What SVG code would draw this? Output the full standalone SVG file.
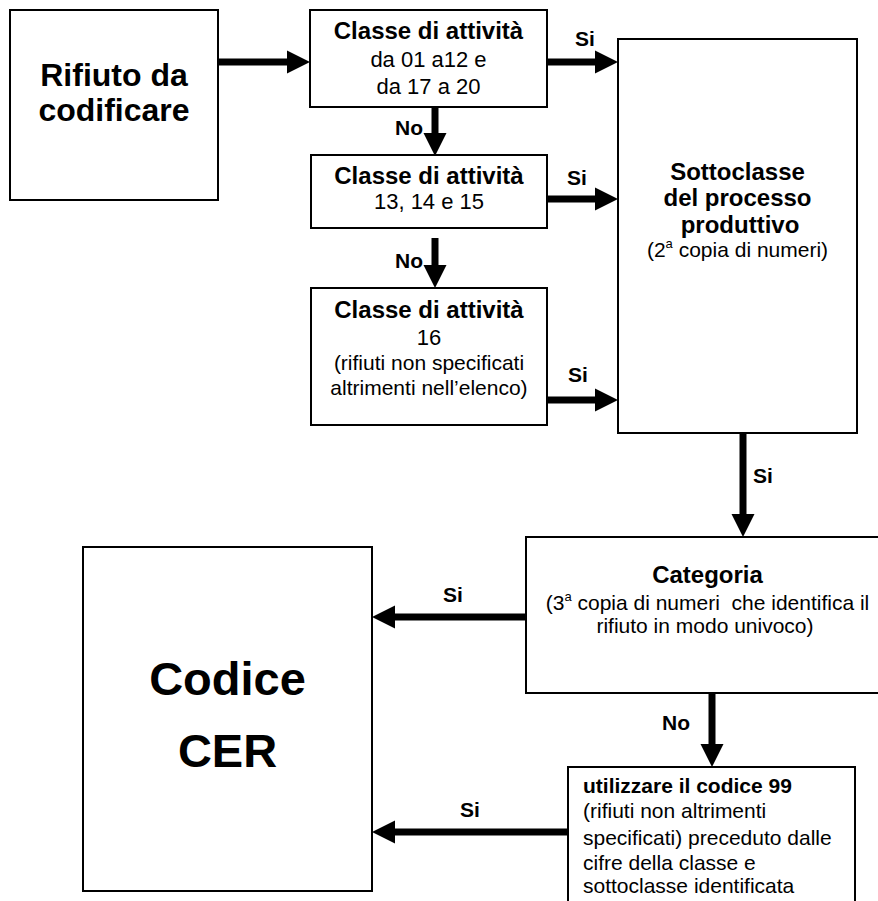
<svg xmlns="http://www.w3.org/2000/svg" width="878" height="901" viewBox="0 0 878 901">
<style>
.box{fill:#fff;stroke:#000;stroke-width:2}
text{font-family:"Liberation Sans",Arial,sans-serif;fill:#000}
.b{font-weight:bold}
.t{font-size:24px;font-weight:bold;text-anchor:middle}
.r{font-size:21px;text-anchor:middle}
.r2{font-size:22px;text-anchor:middle}
.lbl{font-size:21px;font-weight:bold}
.big{font-size:32px;font-weight:bold;text-anchor:middle}
.huge{font-size:47px;font-weight:bold;text-anchor:middle}
.ln{font-size:21px}
.sh{stroke:#000;stroke-width:7;fill:none}
</style>
<defs>
<marker id="ah" markerUnits="userSpaceOnUse" markerWidth="24" markerHeight="24" refX="0" refY="12" orient="auto" overflow="visible">
<path d="M0,0.5 L23,12 L0,23.5 Z" fill="#000"/>
</marker>
</defs>
<g id="connectors">
<line class="sh" x1="218" y1="62" x2="287" y2="62" marker-end="url(#ah)"/>
<line class="sh" x1="547" y1="62" x2="595" y2="62" marker-end="url(#ah)"/>
<line class="sh" x1="435" y1="107" x2="435" y2="133" marker-end="url(#ah)"/>
<line class="sh" x1="547" y1="199" x2="595" y2="199" marker-end="url(#ah)"/>
<line class="sh" x1="435" y1="238" x2="435" y2="265" marker-end="url(#ah)"/>
<line class="sh" x1="547" y1="400" x2="595" y2="400" marker-end="url(#ah)"/>
<line class="sh" x1="743" y1="433" x2="743" y2="514" marker-end="url(#ah)"/>
<line class="sh" x1="526" y1="617" x2="395" y2="617" marker-end="url(#ah)"/>
<line class="sh" x1="712" y1="693" x2="712" y2="744" marker-end="url(#ah)"/>
<line class="sh" x1="568" y1="832" x2="395" y2="832" marker-end="url(#ah)"/>
<text class="lbl" x="575" y="46">Si</text>
<text class="lbl" x="395" y="135">No</text>
<text class="lbl" x="567" y="185">Si</text>
<text class="lbl" x="395" y="268">No</text>
<text class="lbl" x="568" y="382">Si</text>
<text class="lbl" x="753" y="483">Si</text>
<text class="lbl" x="443" y="602">Si</text>
<text class="lbl" x="662" y="730">No</text>
<text class="lbl" x="460" y="817">Si</text>
</g>
<g id="rifiuto">
<rect class="box" x="10" y="10" width="208" height="190"/>
<text class="big" x="114" y="86">Rifiuto da</text>
<text class="big" x="114" y="121">codificare</text>
</g>
<g id="classe1">
<rect class="box" x="310" y="10" width="237" height="97"/>
<text class="t" x="428.5" y="39">Classe di attività</text>
<text class="r2" x="428.5" y="67">da 01 a12 e</text>
<text class="r2" x="428.5" y="94">da 17 a 20</text>
</g>
<g id="classe2">
<rect class="box" x="311" y="155" width="236" height="73"/>
<text class="t" x="429" y="184">Classe di attività</text>
<text class="r2" x="429" y="209">13, 14 e 15</text>
</g>
<g id="classe3">
<rect class="box" x="311" y="288" width="236" height="137"/>
<text class="t" x="429" y="318">Classe di attività</text>
<text class="r2" x="429" y="345">16</text>
<text class="r" x="429" y="370">(rifiuti non specificati</text>
<text class="r" x="429" y="395">altrimenti nell’elenco)</text>
</g>
<g id="sottoclasse">
<rect class="box" x="618" y="39" width="239" height="394"/>
<text class="t" x="737.5" y="180">Sottoclasse</text>
<text class="t" x="737.5" y="206">del processo</text>
<text class="t" x="740" y="233">produttivo</text>
<text class="r" x="737.5" y="257">(2<tspan font-size="13" dy="-9">a</tspan><tspan dy="9"> copia di numeri)</tspan></text>
</g>
<g id="categoria">
<rect class="box" x="526" y="537" width="363" height="156"/>
<text class="t" x="707.5" y="583">Categoria</text>
<text class="r" x="707.5" y="610" xml:space="preserve">(3<tspan font-size="13" dy="-9">a</tspan><tspan dy="9"> copia di numeri  che identifica il</tspan></text>
<text class="r" x="705" y="633">rifiuto in modo univoco)</text>
</g>
<g id="codice">
<rect class="box" x="83" y="547" width="289" height="344"/>
<text class="huge" x="227.5" y="695">Codice</text>
<text class="huge" x="227.5" y="767">CER</text>
</g>
<g id="codice99">
<rect class="box" x="568" y="767" width="287" height="160"/>
<text class="ln b" x="583" y="793">utilizzare il codice 99</text>
<text class="ln" x="583" y="818">(rifiuti non altrimenti</text>
<text class="ln" x="583" y="845">specificati) preceduto dalle</text>
<text class="ln" x="583" y="870">cifre della classe e</text>
<text class="ln" x="583" y="893">sottoclasse identificata</text>
</g>
</svg>
